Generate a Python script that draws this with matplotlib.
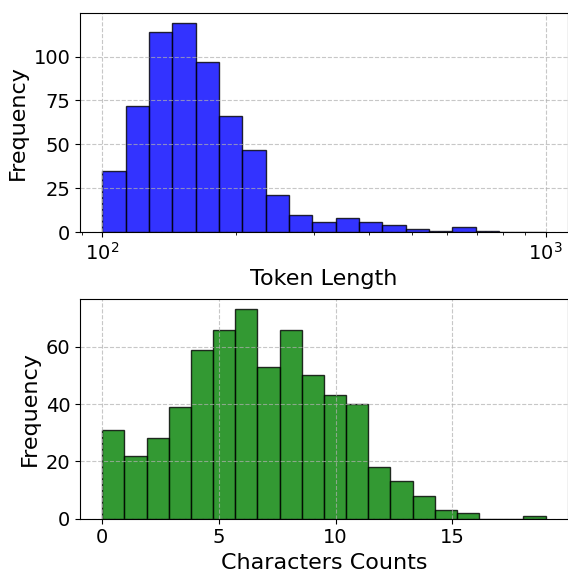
import numpy as np
import matplotlib
matplotlib.use("Agg")
import matplotlib.pyplot as plt

# token length histogram (log bins 100..1000, 19 bins)
token_edges = np.logspace(2, 3, 20)
token_counts = [35, 72, 114, 119, 97, 66, 47, 21, 10, 6, 8, 6, 4, 2, 1, 3, 1, 0, 0]

# character count histogram (20 bins over 0..19)
char_edges = np.linspace(0, 19, 21)
char_counts = [31, 22, 28, 39, 59, 66, 73, 53, 66, 50, 43, 40, 18, 13, 8, 3, 2, 0, 0, 1]

fig = plt.figure(figsize=(5.68, 5.69), dpi=100)
ax1 = fig.add_axes([80 / 568, 1 - 232.3 / 569, 487.7 / 568, 219.6 / 569])
ax2 = fig.add_axes([80 / 568, 1 - 518.7 / 569, 487.7 / 568, 219.7 / 569])

ax1.hist(token_edges[:-1], bins=token_edges, weights=token_counts,
         color="blue", edgecolor="black", alpha=0.8)
ax1.set_xscale("log")
ax1.set_xlim(10 ** 1.95, 10 ** 3.05)
ax1.set_xlabel("Token Length", fontsize=16)
ax1.set_ylabel("Frequency", fontsize=16)
ax1.tick_params(labelsize=14)
ax1.grid(True, linestyle="--", alpha=0.7)

ax2.hist(char_edges[:-1], bins=char_edges, weights=char_counts,
         color="green", edgecolor="black", alpha=0.8)
ax2.set_xlabel("Characters Counts", fontsize=16)
ax2.set_ylabel("Frequency", fontsize=16)
ax2.tick_params(labelsize=14)
ax2.set_xticks([0, 5, 10, 15])
ax2.grid(True, linestyle="--", alpha=0.7)

fig.savefig("out.png", dpi=100)
plt.close(fig)
